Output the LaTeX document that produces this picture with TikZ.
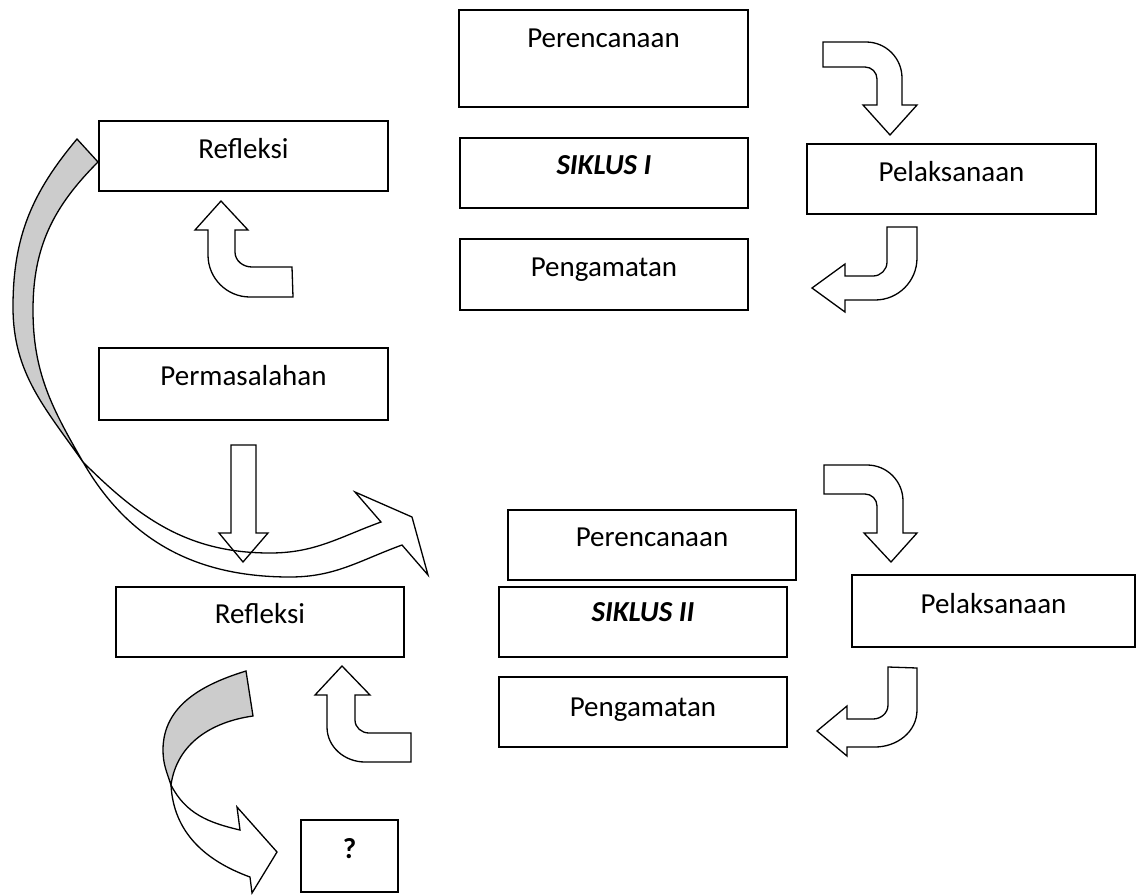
\documentclass[tikz,border=0pt]{standalone}
\usepackage{fontspec}
\setmainfont{Carlito}
\begin{document}
\begin{tikzpicture}[x=1pt,y=1pt,
  box/.style={draw, line width=1.5pt, rectangle, inner sep=0pt},
  lbl/.style={anchor=base, font=\fontsize{29}{34}\selectfont, inner sep=0pt},
  barrow/.style={draw, line width=1.3pt, line join=miter},
  back/.style={draw, line width=1.3pt, fill=gray!40, line join=miter}]
\useasboundingbox (0,0) rectangle (1136,-895);

% ---- boxes, cycle I
\node[box, minimum width=289pt, minimum height=97pt] (per1) at (603.5,-58.5) {};
\node[lbl] (per1t) at ([yshift=-38.5pt]per1.north) {Perencanaan};
\node[box, minimum width=289pt, minimum height=70pt] (ref1) at (243.5,-156) {};
\node[lbl] (ref1t) at ([yshift=-38.5pt]ref1.north) {Refleksi};
\node[box, minimum width=288pt, minimum height=70pt] (sik1) at (604,-173) {};
\node[lbl] (sik1t) at ([yshift=-37pt]sik1.north) {\bfseries\itshape SIKLUS I};
\node[box, minimum width=289pt, minimum height=70pt] (pel1) at (951.5,-179) {};
\node[lbl] (pel1t) at ([yshift=-38pt]pel1.north) {Pelaksanaan};
\node[box, minimum width=288pt, minimum height=71pt] (pen1) at (604,-274.5) {};
\node[lbl] (pen1t) at ([yshift=-38pt]pen1.north) {Pengamatan};
\node[box, minimum width=289pt, minimum height=72pt] (perm) at (243.5,-384) {};
\node[lbl] (permt) at ([yshift=-38.5pt]perm.north) {Permasalahan};

% ---- boxes, cycle II
\node[box, minimum width=288pt, minimum height=70pt] (per2) at (652,-545) {};
\node[lbl] (per2t) at ([yshift=-37pt]per2.north) {Perencanaan};
\node[box, minimum width=288pt, minimum height=70pt] (ref2) at (260,-622) {};
\node[lbl] (ref2t) at ([yshift=-37.5pt]ref2.north) {Refleksi};
\node[box, minimum width=288pt, minimum height=70pt] (sik2) at (643,-622) {};
\node[lbl] (sik2t) at ([yshift=-35pt]sik2.north) {\bfseries\itshape SIKLUS II};
\node[box, minimum width=283pt, minimum height=72pt] (pel2) at (993.5,-611) {};
\node[lbl] (pel2t) at ([yshift=-39pt]pel2.north) {Pelaksanaan};
\node[box, minimum width=288pt, minimum height=70pt] (pen2) at (643,-712) {};
\node[lbl] (pen2t) at ([yshift=-40pt]pen2.north) {Pengamatan};
\node[box, minimum width=97pt, minimum height=72pt] (q) at (349.5,-856) {};
\node[lbl] (qt) at ([yshift=-39pt]q.north) {\bfseries ?};

% ---- bent arrows, cycle I
% Perencanaan -> Pelaksanaan
\draw[barrow] (823,-42) -- (866,-42) to[out=0,in=90] (902,-78) -- (902,-105)
  -- (917,-105) -- (890,-135) -- (863,-105) -- (877,-105) -- (877,-79)
  to[out=90,in=0] (865,-67) -- (823,-67) -- cycle;
% Pelaksanaan -> Pengamatan
\draw[barrow] (887,-227) -- (917,-227) -- (917,-258) to[out=-90,in=0] (875,-300)
  -- (845,-300) -- (845,-312) -- (812,-288) -- (845,-264) -- (845,-276)
  -- (873,-276) to[out=0,in=-90] (887,-262) -- cycle;
% up to Refleksi I
\draw[barrow] (221,-201) -- (248,-230) -- (235,-230) -- (235,-252)
  to[out=-90,in=180] (252,-267) -- (292,-267) -- (293,-297) -- (250,-297)
  to[out=180,in=-90] (208,-255) -- (208,-230) -- (195,-230) -- cycle;

% ---- straight arrow Permasalahan -> Refleksi II
\draw[barrow] (231,-445) -- (256,-445) -- (256,-533) -- (268,-533) -- (243,-562)
  -- (219,-533) -- (231,-533) -- cycle;

% ---- big curved arrow from Refleksi I to cycle II
\draw[back] (77,-139) to[out=230,in=90] (13,-307) to[out=-90,in=125] (83,-462)
  to[out=120,in=-90] (33,-310) to[out=90,in=225] (98,-162) -- cycle;
\draw[barrow] (83,-462) to[out=-45,in=180] (270,-553) to[out=0,in=200] (381,-522)
  -- (355,-492) -- (412,-517) -- (428,-575) -- (402,-545)
  to[out=200,in=0] (290,-577) to[out=180,in=-60] (83,-462) -- cycle;

% ---- bent arrows, cycle II
% Perencanaan -> Pelaksanaan
\draw[barrow] (824,-465) -- (867,-465) to[out=0,in=90] (903,-501) -- (903,-533)
  -- (917,-533) -- (891,-562) -- (864,-533) -- (877,-533) -- (877,-506)
  to[out=90,in=0] (865,-494) -- (824,-494) -- cycle;
% Pelaksanaan -> Pengamatan
\draw[barrow] (888,-667) -- (917,-668) -- (917,-710) to[out=-90,in=0] (875,-747)
  -- (847,-747) -- (847,-756) -- (817,-731) -- (847,-706) -- (847,-719)
  -- (873,-719) to[out=0,in=-90] (888,-705) -- cycle;
% up to Refleksi II
\draw[barrow] (342,-666) -- (370,-695) -- (355,-695) -- (355,-720)
  to[out=-90,in=180] (369,-733) -- (411,-733) -- (411,-762) -- (365,-762)
  to[out=180,in=-90] (327,-727) -- (327,-695) -- (315,-695) -- cycle;

% ---- curved arrow Refleksi II -> ?
\draw[back] (246,-671) to[out=197,in=90] (163,-750) to[out=-90,in=108] (171,-785)
  to[out=82,in=188] (253,-716) -- cycle;
\draw[barrow] (171,-785) to[out=-63,in=167] (240,-830) -- (237,-807) -- (277,-852)
  -- (252,-893) -- (250,-877) to[out=160,in=-87] (171,-785) -- cycle;
\end{tikzpicture}
\end{document}
